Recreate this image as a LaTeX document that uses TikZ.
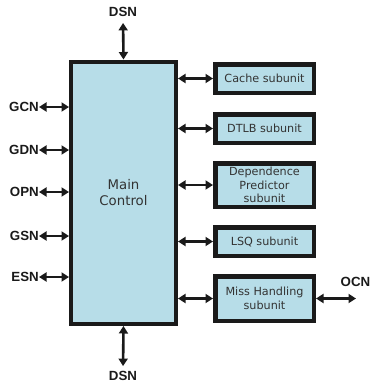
\documentclass[tikz,border=0pt]{standalone}
\usepackage{fontspec}
\setmainfont{DejaVu Sans}
\newfontfamily\labfont{Liberation Sans}
\usetikzlibrary{arrows.meta}
\definecolor{boxfill}{HTML}{B7DDE8}
\definecolor{boxtext}{HTML}{333333}
\definecolor{edge}{HTML}{1A1A1A}
\begin{document}
\begin{tikzpicture}[x=1pt,y=-1pt,
  mainbox/.style={draw=edge,fill=boxfill,line width=4pt,minimum width=105pt,minimum height=262.5pt,inner sep=0pt,text=boxtext,font=\fontsize{13.3}{16}\selectfont,align=center},
  subbox/.style={draw=edge,fill=boxfill,line width=4.5pt,minimum width=98.5pt,minimum height=28.5pt,inner sep=0pt,text=boxtext,font=\fontsize{11.2}{13.7}\selectfont,align=center},
  lab/.style={font=\labfont\bfseries\fontsize{13.3}{15}\selectfont,text=edge,inner sep=0pt},
  conn/.style={draw=edge,line width=2.6pt,{Triangle[length=7.5pt,width=9pt]}-{Triangle[length=7.5pt,width=9pt]}}
]
\useasboundingbox (0,0) rectangle (371,389);
\node[mainbox] (main) at (123.5,192.75) {Main\\Control};
\node[subbox] (cache) at (264.5,78.5) {Cache subunit};
\node[subbox] (dtlb) at (264.5,128.5) {DTLB subunit};
\node[subbox,minimum height=43.5pt] (dep) at (264.5,185) {Dependence\\Predictor\\subunit};
\node[subbox] (lsq) at (264.5,241.5) {LSQ subunit};
\node[subbox,minimum height=44.5pt] (miss) at (264.5,298.5) {Miss Handling\\subunit};
% right links
\foreach \s in {cache,dtlb,dep,lsq,miss}
  \draw[conn] (main.east |- \s.west) -- (\s.west);
% left labels
\node[lab,anchor=east] (gcn) at (39,107) {GCN};
\node[lab,anchor=east] (gdn) at (39,150) {GDN};
\node[lab,anchor=east] (opn) at (39,192) {OPN};
\node[lab,anchor=east] (gsn) at (39,236) {GSN};
\node[lab,anchor=east] (esn) at (39,277) {ESN};
\foreach \l in {gcn,gdn,opn,gsn,esn}
  \draw[conn] (\l.east) -- (main.west |- \l.east);
% DSN
\node[lab] (dsnt) at (123,12) {DSN};
\node[lab] (dsnb) at (123,376) {DSN};
\draw[conn,shorten <=6pt] (dsnt.south) -- (main.north);
\draw[conn,shorten <=5pt] (dsnb.north) -- (main.south);
% OCN
\node[lab] (ocn) at (355.5,282) {OCN};
\coordinate (ocnend) at (356,298.5);
\draw[conn] (miss.east) -- (ocnend);
\end{tikzpicture}
\end{document}
